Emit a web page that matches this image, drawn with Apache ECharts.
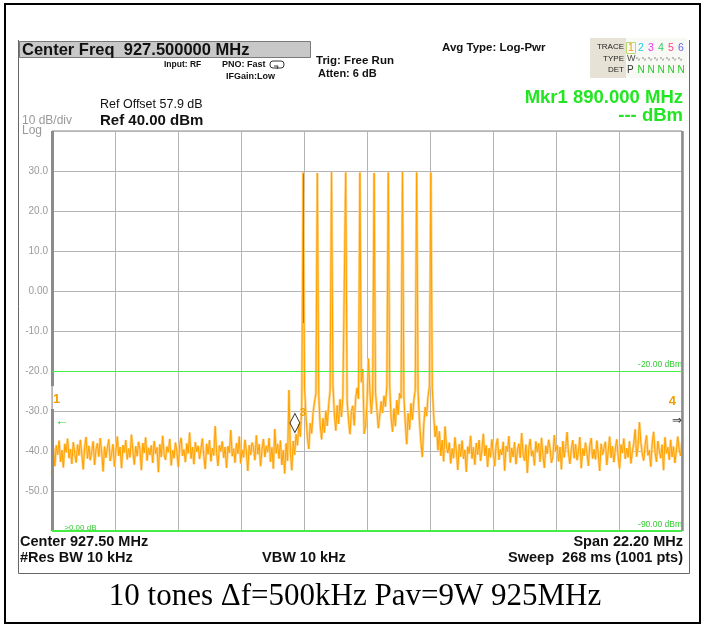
<!DOCTYPE html>
<html><head><meta charset="utf-8">
<script src="https://cdn.jsdelivr.net/npm/echarts@6/dist/echarts.min.js"></script>
<style>html,body{margin:0;padding:0;background:#fff}#c{width:704px;height:625px}</style>
</head><body><div id="c"></div>
<script>
// ---- data ----
const START_MHZ = 916.4;          // 927.5 - 11.1
const SPAN_MHZ = 22.2;
const STEP_MHZ = 0.05;            // sampled trace step
const Y_MIN = -60, Y_MAX = 40, Y_DIV = 10;
const yTickLabels = {"30":"30.0","20":"20.0","10":"10.0","0":"0.00","-10":"-10.0","-20":"-20.0","-30":"-30.0","-40":"-40.0","-50":"-50.0"};

const leftNoise = [
-45.8,-39.2,-43.8,-38.6,-40.9,-37.4,-42.7,-39.8,-44.1,-38.2,
-40.3,-36.9,-41.8,-39.5,-43.2,-37.8,-40.6,-42.9,-38.4,-41.1,
-37.2,-40.8,-44.6,-39.1,-36.5,-41.9,-38.7,-42.3,-40.1,-37.6,
-43.5,-39.6,-38.1,-41.4,-36.8,-40.2,-45.1,-38.9,-41.7,-39.3,
-37.1,-42.5,-40.7,-38.3,-43.9,-39.9,-36.4,-41.2,-39.0,-44.3,
-38.5,-40.4,-37.3,-42.1,-39.4,-41.6,-35.9,-40.0,-43.4,-38.8,
-41.3,-37.7,-39.7,-44.8,-38.0,-40.5,-36.6,-42.4,-39.2,-41.0,
-38.6,-43.0,-37.5,-40.7,-39.1,-45.3,-38.3,-41.5,-36.2,-40.9,
-42.2,-38.9,-40.3,-37.0,-43.6,-39.8,-41.8,-37.9,-40.1,-44.0,
-38.4,-36.7,-41.2,-39.6,-42.8,-38.1,-40.6,-35.4,-41.9,-39.0,
-43.3,-37.8,-40.2,-38.7,-42.0,-39.5,-36.9,-41.4,-44.5,-38.2,
-40.8,-37.3,-42.6,-39.3,-41.1,-33.8,-40.4,-43.7,-38.6,-39.9,
-37.6,-41.7,-39.0,-44.2,-38.8,-40.5,-34.8,-41.3,-39.4,-42.9,
-38.0,-40.7,-36.4,-43.1,-39.7,-41.6,-37.2,-40.1,-45.0,-38.5,
-41.0,-37.9,-39.2,-42.3,-36.1,-40.8,-38.3,-43.8,-39.6,-37.0,
-41.5,-38.7,-40.3,-36.8,-42.7,-39.1,-44.4,-34.5,-40.6,-38.2,
-41.9,-37.4,-43.5,-39.8,-45.6,-38.1
];
const toneBand = [
-42.5,-24.8,-40.2,-44.8,-37.5,-41.0,-35.8,-38.6,-33.2,-36.4,-29.5,
29.6,
-24.5,-31.2,-36.8,-39.5,-33.0,-35.6,-30.4,-27.8,-25.6,
29.5,
-26.2,-33.5,-37.1,-31.8,-35.4,-29.9,-33.7,-28.4,-24.9,
29.7,
-23.4,-30.8,-34.9,-28.6,-33.2,-27.1,-31.5,-26.3,-25.8,
29.6,
-27.5,-32.4,-35.8,-30.1,-28.7,-33.6,-26.9,-24.2,-27.0,
29.6,
-22.8,-19.5,-35.7,-33.9,-28.2,-16.9,-24.6,-30.7,-26.1,
29.5,
-25.4,-29.8,-34.3,-31.0,-27.6,-30.5,-26.2,-28.9,-23.6,
29.6,
-24.0,-31.7,-35.2,-29.4,-33.8,-27.3,-30.9,-25.5,-26.8,
29.7,
-26.5,-33.1,-38.3,-30.6,-34.7,-28.1,-32.2,-27.4,-24.7,
29.6,
-25.1,-32.6,-37.9,-41.5,-33.5,-29.0,-31.3,-26.4,-23.9,
29.6,
-24.3,-31.0,-36.5,-33.7,-39.8,-35.1,-41.2,-37.3,-42.6,-33.9,-38.8
];
const rightNoise = [
-40.5,-37.9,-43.1,-39.4,-41.8,-36.6,-40.2,-44.7,-38.3,-41.4,
-37.4,-42.0,-39.7,-45.2,-38.9,-40.6,-36.2,-41.9,-39.1,-43.4,
-38.0,-40.9,-37.3,-42.5,-39.8,-35.7,-41.2,-38.6,-44.0,-39.3,
-41.6,-37.1,-40.4,-43.8,-38.5,-36.9,-42.2,-39.6,-41.0,-37.7,
-44.9,-38.8,-40.1,-36.3,-42.9,-39.2,-41.5,-37.8,-43.3,-40.0,
-38.2,-41.7,-35.5,-40.8,-42.4,-38.4,-45.5,-39.5,-37.0,-41.3,
-39.9,-43.6,-37.6,-40.3,-38.1,-42.7,-36.7,-41.1,-44.2,-38.7,
-40.7,-37.2,-39.3,-43.0,-41.4,-36.0,-40.0,-38.5,-42.6,-39.0,
-44.6,-37.5,-41.6,-38.9,-35.3,-40.6,-43.2,-39.7,-37.3,-41.8,
-38.3,-42.3,-40.2,-36.5,-44.3,-39.4,-41.2,-37.9,-40.4,-43.7,
-38.6,-36.8,-41.9,-39.6,-42.1,-37.4,-40.8,-45.0,-38.2,-41.0,
-39.2,-37.7,-43.5,-40.1,-36.4,-41.7,-38.8,-42.8,-39.5,-37.1,
-41.3,-44.4,-38.4,-40.5,-36.9,-42.0,-39.3,-41.6,-37.6,-43.1,
-40.2,-38.1,-34.6,-41.4,-39.0,-32.8,-37.8,-40.7,-42.4,-38.6,
-36.1,-41.1,-39.8,-43.9,-38.0,-35.2,-40.3,-42.7,-37.5,-39.9,
-41.8,-38.4,-44.8,-36.6,-40.6,-39.1,-42.2,-37.2,-41.5,-38.9,
-43.0,-40.0,-36.4,-39.6,-41.2,-37.8
];

// marker positions (MHz offset from start, dBm)
const markerDiamond = [8.56, -33];
const tone1Offset = 8.84;

// ---- build ----
const trace = leftNoise.concat(toneBand, rightNoise);
const seriesData = trace.map((v, i) => [+(i * STEP_MHZ).toFixed(3), v]);

const FONT = 'Liberation Sans, Arial, sans-serif';
function txt(text, x, y, opt) {
  opt = opt || {};
  return {
    type: 'text', silent: true, z: 100,
    style: {
      text: text, x: x, y: y,
      font: opt.font || ('bold 10px ' + FONT),
      fill: opt.fill || '#111',
      textAlign: opt.align || 'left', align: opt.align || 'left',
      textVerticalAlign: 'middle', verticalAlign: 'middle'
    }
  };
}
function lbl(coord, text, color, size, bold) {
  return {
    coord: coord, symbol: 'circle', symbolSize: 1, itemStyle: {color: 'rgba(0,0,0,0)'},
    label: {show: true, position: 'inside', formatter: text, color: color,
      fontSize: size, fontWeight: bold ? 'bold' : 'normal', fontFamily: FONT}
  };
}

const chart = echarts.init(document.getElementById('c'), null, {renderer: 'canvas'});
const traceNums = ['1','2','3','4','5','6'];
const traceCols = ['#f0a000','#22ccee','#ee33ee','#33cc66','#ff4488','#6666ee'];
const graphics = [
  // outer black border
  {type:'rect', shape:{x:5, y:4, width:695, height:619}, style:{fill:'none', stroke:'#000', lineWidth:2}, silent:true},
  // inner screenshot frame
  {type:'polyline', shape:{points:[[18.5,40],[18.5,573.5],[689.5,573.5],[689.5,40]]}, style:{fill:'none', stroke:'#666', lineWidth:1}, silent:true},
  // header box
  {type:'rect', shape:{x:19.5, y:41.5, width:291, height:16}, style:{fill:'#c8c8c8', stroke:'#7a7a7a', lineWidth:1}, silent:true},
  txt('Center Freq  927.500000 MHz', 22, 50, {font:'bold 16.5px ' + FONT}),
  txt('Input: RF', 164, 65, {font:'bold 8.5px ' + FONT}),
  txt('PNO: Fast', 222, 65, {font:'bold 9px ' + FONT}),
  {type:'rect', shape:{x:270, y:61, width:14, height:7, r:3}, style:{fill:'none', stroke:'#333', lineWidth:1}, silent:true},
  {type:'polyline', shape:{points:[[274,66],[278,66],[277,69]]}, style:{fill:'none', stroke:'#333', lineWidth:1}, silent:true},
  txt('IFGain:Low', 226, 77, {font:'bold 9px ' + FONT}),
  txt('Trig: Free Run', 316, 61, {font:'bold 11.5px ' + FONT}),
  txt('Atten: 6 dB', 318, 74, {font:'bold 11px ' + FONT}),
  txt('Avg Type: Log-Pwr', 442, 48, {font:'bold 11.5px ' + FONT}),
  // trace box
  {type:'rect', shape:{x:590, y:38, width:36, height:40}, style:{fill:'#e6e3d6'}, silent:true},
  {type:'rect', shape:{x:626, y:38, width:61, height:40}, style:{fill:'#f8f8f4'}, silent:true},
  txt('TRACE', 624, 47, {font:'8px ' + FONT, align:'right', fill:'#222'}),
  txt('TYPE', 624, 59, {font:'8px ' + FONT, align:'right', fill:'#222'}),
  txt('DET', 624, 70, {font:'8px ' + FONT, align:'right', fill:'#222'}),
  {type:'rect', shape:{x:626.5, y:42.5, width:9, height:11}, style:{fill:'none', stroke:'#bcd870', lineWidth:1}, silent:true},
  ...traceNums.map((n, k) => txt(n, 631 + k * 10, 48, {font:'10.5px ' + FONT, align:'center', fill:traceCols[k]})),
  txt('W', 627, 59, {font:'9px ' + FONT, fill:'#444'}),
  txt('\u223F\u223F\u223F\u223F\u223F\u223F\u223F\u223F', 635, 59, {font:'7px ' + FONT, fill:'#888'}),
  txt('P', 627, 70, {font:'10px ' + FONT, fill:'#333'}),
  ...[0,1,2,3,4].map(k => txt('N', 641 + k * 10, 70, {font:'10px ' + FONT, align:'center', fill:'#22cc22'})),
  txt('Mkr1 890.000 MHz', 683, 98, {font:'bold 18.5px ' + FONT, align:'right', fill:'#22e622'}),
  txt('--- dBm', 683, 116, {font:'bold 18.5px ' + FONT, align:'right', fill:'#22e622'}),
  txt('Ref Offset 57.9 dB', 100, 105, {font:'12.5px ' + FONT}),
  txt('Ref 40.00 dBm', 100, 121, {font:'bold 15px ' + FONT}),
  txt('10 dB/div', 22, 121, {font:'12px ' + FONT, fill:'#999'}),
  txt('Log', 22, 131, {font:'12px ' + FONT, fill:'#999'}),
  // footer
  txt('Center 927.50 MHz', 20, 542, {font:'bold 14.5px ' + FONT}),
  txt('Span 22.20 MHz', 683, 542, {font:'bold 14.5px ' + FONT, align:'right'}),
  txt('#Res BW 10 kHz', 20, 558, {font:'bold 14.5px ' + FONT}),
  txt('VBW 10 kHz', 262, 558, {font:'bold 14.5px ' + FONT}),
  txt('Sweep  268 ms (1001 pts)', 683, 558, {font:'bold 14.5px ' + FONT, align:'right'}),
  txt('10 tones \u0394f=500kHz Pav=9W 925MHz', 355, 597, {font:'31px Liberation Serif, Times New Roman, serif', align:'center', fill:'#000'})
];

chart.setOption({
  animation: false,
  backgroundColor: '#fff',
  grid: {left: 52, top: 131, width: 630, height: 400, show: true, borderColor: '#8a8a8a', borderWidth: 1, backgroundColor: 'transparent'},
  xAxis: {
    type: 'value', min: 0, max: SPAN_MHZ, interval: SPAN_MHZ / 10,
    axisLine: {show: false}, axisTick: {show: false}, axisLabel: {show: false},
    splitLine: {show: true, lineStyle: {color: '#b4b4b4', width: 1}}
  },
  yAxis: {
    type: 'value', min: Y_MIN, max: Y_MAX, interval: Y_DIV,
    axisLine: {show: false}, axisTick: {show: false},
    axisLabel: {show: true, margin: 4, color: '#9a9a9a', fontSize: 10, fontFamily: FONT,
      formatter: v => yTickLabels[String(v)] || ''},
    splitLine: {show: true, lineStyle: {color: '#b4b4b4', width: 1}}
  },
  graphic: graphics,
  series: [
    {type: 'line', data: seriesData, showSymbol: false, symbol: 'none', z: 3,
     lineStyle: {color: '#ffd48a', width: 2.6}, silent: true},
    {type: 'line', data: seriesData, showSymbol: false, symbol: 'none', z: 4,
     lineStyle: {color: '#ffa200', width: 1}, silent: true,
     markLine: {
       silent: true, symbol: 'none', animation: false,
       data: [
         [{coord: [0, 40], lineStyle: {color: '#8c8c8c', width: 3, type: 'solid'}}, {coord: [0, -23.8]}],
         [{coord: [0, -29.5], lineStyle: {color: '#8c8c8c', width: 3, type: 'solid'}}, {coord: [0, -60]}],
         [{coord: [SPAN_MHZ, 40], lineStyle: {color: '#8c8c8c', width: 2.5, type: 'solid'}}, {coord: [SPAN_MHZ, -60]}],
         {yAxis: -20, lineStyle: {color: '#44ee44', width: 1, type: 'solid'},
          label: {show: true, position: 'insideEndTop', formatter: '-20.00 dBm', color: '#33cc33', fontSize: 8.5, fontFamily: FONT, distance: [0, 2]}},
         {yAxis: -60, lineStyle: {color: '#44ee44', width: 2, type: 'solid'},
          label: {show: true, position: 'insideEndTop', formatter: '-90.00 dBm', color: '#33cc33', fontSize: 8.5, fontFamily: FONT, distance: [0, 2]}},
         [{coord: [tone1Offset, 29.3], lineStyle: {color: '#8a8070', width: 1, type: 'solid'}}, {coord: [tone1Offset, -8]}]
       ]
     },
     markPoint: {
       silent: true, animation: false,
       data: [
         {coord: markerDiamond, symbol: 'diamond', symbolSize: [10, 19],
          itemStyle: {color: 'rgba(255,255,255,0)', borderColor: '#333', borderWidth: 1}, label: {show: false}},
         lbl([8.84, -30.6], '3', '#f0a000', 11, true),
         lbl([0.16, -27], '1', '#f0a000', 13, true),
         lbl([0.35, -32.5], '\u2190', '#33dd33', 14, false),
         lbl([21.86, -27.5], '4', '#f0a000', 13, true),
         lbl([22.02, -32.5], '\u21D2', '#333', 12, false),
         lbl([1.0, -59.3], '>0.00 dB', '#33cc33', 8, false)
       ]
     }
    }
  ]
});
</script>
</body></html>
